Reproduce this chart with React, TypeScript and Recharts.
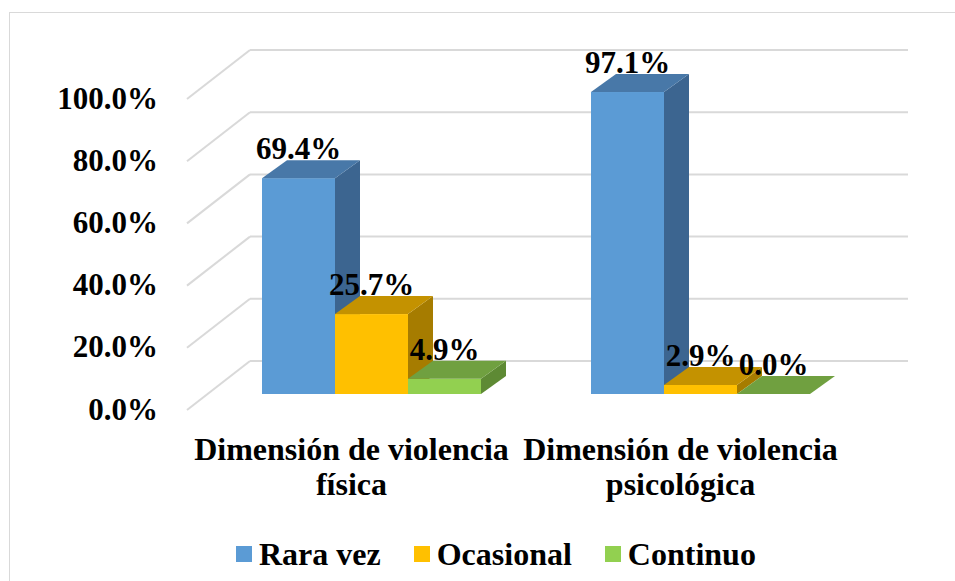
import React from 'react';
import { BarChart, Bar, XAxis, YAxis, CartesianGrid, Legend, LabelList } from 'recharts';

const categories = ['Dimensión de violencia física', 'Dimensión de violencia psicológica'];
const rareValues = [69.4, 97.1];
const occasionalValues = [25.7, 2.9];
const continuousValues = [4.9, 0.0];
const yTicks = [0, 20, 40, 60, 80, 100];

const series = [
  { key: 'rara', name: 'Rara vez', front: '#5B9BD5', top: '#4878A8', side: '#3C6590' },
  { key: 'ocasional', name: 'Ocasional', front: '#FFC000', top: '#C49200', side: '#A67C00' },
  { key: 'continuo', name: 'Continuo', front: '#92D050', top: '#70A040', side: '#5E8A34' },
];

const data = categories.map((name, i) => ({
  name,
  rara: rareValues[i],
  ocasional: occasionalValues[i],
  continuo: continuousValues[i],
}));

const FONT = '"Liberation Serif", "Times New Roman", serif';
const DEPTH_X = 25;
const DEPTH_Y = 18;
const GRID = '#D9D9D9';

// 3D bar: front face + top face + right side face
function makeBox(s: (typeof series)[number]) {
  return (props: any) => {
    const { x, y, width, height } = props;
    if (x == null || y == null) return null;
    const h = Math.max(0, height);
    return (
      <g>
        <rect x={x} y={y} width={width} height={h} fill={s.front} />
        <polygon
          points={`${x + width},${y} ${x + width + DEPTH_X},${y - DEPTH_Y} ${x + width + DEPTH_X},${y + h - DEPTH_Y} ${x + width},${y + h}`}
          fill={s.side}
        />
        <polygon
          points={`${x},${y} ${x + DEPTH_X},${y - DEPTH_Y} ${x + width + DEPTH_X},${y - DEPTH_Y} ${x + width},${y}`}
          fill={s.top}
        />
      </g>
    );
  };
}

const renderValue = (props: any) => {
  const { x, y, width, value } = props;
  return (
    <text x={x + width / 2} y={y - DEPTH_Y - 1} textAnchor="middle" fontFamily={FONT} fontWeight="bold" fontSize={31} fill="#000">
      {Number(value).toFixed(1)}%
    </text>
  );
};

// gridline on the back wall plus the diagonal on the side wall
const renderGridLine = (p: any) => {
  const { x1, y1, x2 } = p;
  return (
    <g key={p.key}>
      <line x1={x1 - 20} y1={y1 + 16} x2={x1 + 43} y2={y1 - 33} stroke={GRID} strokeWidth={2} />
      <line x1={x1 + 43} y1={y1 - 33} x2={x2 + 43} y2={y1 - 33} stroke={GRID} strokeWidth={2} />
    </g>
  );
};

const YTick = (props: any) => {
  const { y, payload } = props;
  return (
    <text x={158} y={y + 15} textAnchor="end" dominantBaseline="central" fontFamily={FONT} fontWeight="bold" fontSize={31} fill="#000">
      {payload.value.toFixed(1)}%
    </text>
  );
};

const XTick = (props: any) => {
  const { x, y, payload } = props;
  const words = String(payload.value).split(' ');
  const first = words.slice(0, 3).join(' ');
  const rest = words.slice(3).join(' ');
  return (
    <g>
      <text x={x - 20} y={y + 55} textAnchor="middle" dominantBaseline="central" fontFamily={FONT} fontWeight="bold" fontSize={32} fill="#000">
        {first}
      </text>
      <text x={x - 20} y={y + 90} textAnchor="middle" dominantBaseline="central" fontFamily={FONT} fontWeight="bold" fontSize={32} fill="#000">
        {rest}
      </text>
    </g>
  );
};

const LegendContent = (props: any) => {
  const order = series.map((s) => s.key);
  const items = [...(props.payload || [])].sort(
    (a: any, b: any) => order.indexOf(a.dataKey) - order.indexOf(b.dataKey)
  );
  return (
    <div style={{ display: 'flex', alignItems: 'center', fontFamily: FONT, fontWeight: 'bold', fontSize: 32, color: '#000' }}>
      {items.map((it: any, i: number) => (
        <div key={i} style={{ display: 'flex', alignItems: 'center', marginRight: i < items.length - 1 ? 33 : 0 }}>
          <span style={{ display: 'inline-block', width: 16, height: 16, background: it.color, marginRight: 7 }} />
          <span style={{ lineHeight: '36px' }}>{it.value}</span>
        </div>
      ))}
    </div>
  );
};

export default function App() {
  return (
    <div style={{ position: 'absolute', left: 0, top: 0, width: 955, height: 581, background: '#fff', overflow: 'hidden' }}>
      <div style={{ position: 'absolute', left: 9, top: 12, width: 1000, height: 700, border: `1px solid ${GRID}` }} />
      <div style={{ position: 'absolute', left: 0, top: 0 }}>
        <BarChart
          width={955}
          height={581}
          data={data}
          margin={{ top: 83, right: 90, bottom: 186, left: 0 }}
          barGap={0}
          barSize={73}
        >
          <CartesianGrid vertical={false} horizontal={renderGridLine} />
          <XAxis dataKey="name" height={1} axisLine={false} tickLine={false} tickSize={0} tickMargin={0} tick={<XTick />} interval={0} />
          <YAxis width={207} domain={[0, 100]} ticks={yTicks} axisLine={false} tickLine={false} tickSize={0} tickMargin={0} tick={<YTick />} />
          <Legend
            layout="horizontal"
            verticalAlign="middle"
            align="center"
            content={<LegendContent />}
            wrapperStyle={{ position: 'absolute', left: 236, top: 536, width: 'auto' }}
          />
          {series.map((s) => (
            <Bar key={s.key} dataKey={s.key} name={s.name} fill={s.front} shape={makeBox(s)} isAnimationActive={false}>
              <LabelList dataKey={s.key} content={renderValue} />
            </Bar>
          ))}
        </BarChart>
      </div>
    </div>
  );
}
